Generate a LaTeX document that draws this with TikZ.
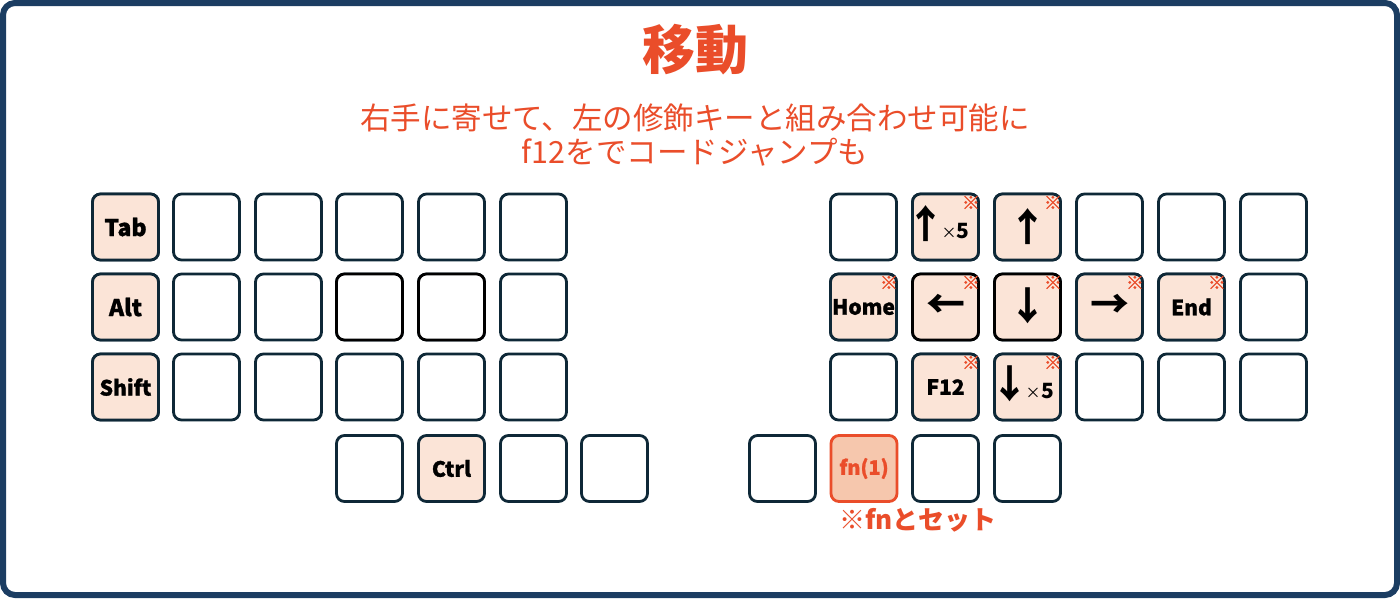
\documentclass[tikz,border=0pt]{standalone}
\usepackage{fontspec}
\setmainfont{Noto Sans CJK JP}
\newfontfamily\heavyfont{Noto Sans CJK JP}[FakeBold=1.2]
\definecolor{frame}{HTML}{1B3D62}
\definecolor{keyline}{HTML}{0E2837}
\definecolor{peach}{HTML}{FBE4D7}
\definecolor{fnfill}{HTML}{F6C7AD}
\definecolor{accent}{HTML}{EA4D2A}
\newcommand{\arrf}{\bfseries\fontsize{39}{39}\selectfont}
\newcommand{\timesf}{\mdseries\fontsize{15}{15}\selectfont}
\newcommand{\fivef}{\bfseries\fontsize{21}{21}\selectfont}
\tikzset{
  key/.style={draw=keyline, line width=2.8pt, rounded corners=8pt, minimum width=66pt, minimum height=66pt, fill=white, inner sep=0pt, font=\heavyfont\bfseries\fontsize{21}{24}\selectfont},
  hot/.style={fill=peach},
  dark/.style={draw=black},
  big/.style={font=\heavyfont\bfseries\fontsize{23}{24}\selectfont},
  fnkey/.style={fill=fnfill, draw=accent, text=accent, font=\heavyfont\bfseries\fontsize{20}{22}\selectfont},
  kome/.style={text=accent, font=\heavyfont\bfseries\fontsize{18}{18}\selectfont, inner sep=0pt},
  arr/.style={font=\arrf, inner sep=0pt},
  combo/.style={anchor=base, inner sep=0pt}
}
\newcommand{\zw}[1]{\makebox[0pt]{#1}}
\begin{document}
\begin{tikzpicture}[x=1pt,y=-1pt]
\useasboundingbox (0,0) rectangle (1400,598);
\draw[frame, line width=6pt, rounded corners=12pt, fill=white] (3,3) rectangle (1397,595);

\node[text=accent, font=\bfseries\fontsize{53}{53}\selectfont] (title) at (695,50) {移動};
\node[text=accent, font=\fontsize{30.5}{34}\selectfont, align=center] (sub) at (695,135) {右手に寄せて、左の修飾キーと組み合わせ可能に\\f12をでコードジャンプも};

% left half
\foreach \c/\x in {1/125.5,2/206.5,3/288.5,4/369.5,5/451.5,6/533.5}{
  \foreach \r/\y in {1/227,2/307,3/387}{
    \node[key] (L\r\c) at (\x,\y) {};
  }
}
\node[key,hot,big] (L11) at (125.5,227) {Tab};
\node[key,hot,big] (L21) at (125.5,307) {Alt};
\node[key,hot] (L31) at (125.5,387) {Shift};
\node[key,dark] (L24) at (369.5,307) {};
\node[key,dark] (L25) at (451.5,307) {};
\node[key] (LB1) at (369.5,468.5) {};
\node[key,hot] (LB2) at (451.5,468.5) {Ctrl};
\node[key] (LB3) at (533.5,468.5) {};
\node[key] (LB4) at (614.5,468.5) {};

% right half
\foreach \c/\x in {1/863.5,2/945.5,3/1027.5,4/1109.5,5/1191.5,6/1273.5}{
  \foreach \r/\y in {1/227,2/307,3/387}{
    \node[key] (R\r\c) at (\x,\y) {};
  }
}
\node[key,hot] (R12) at (945.5,227) {};
\node[key,hot] (R13) at (1027.5,227) {};
\node[key,hot] (R21) at (863.5,307) {Home};
\node[key,hot,dark] (R22) at (945.5,307) {};
\node[key,hot,dark] (R23) at (1027.5,307) {};
\node[key,hot] (R24) at (1109.5,307) {};
\node[key,hot] (R25) at (1191.5,307) {End};
\node[key,hot] (R32) at (945.5,387) {F12};
\node[key,hot] (R33) at (1027.5,387) {};
\node[key] (RB1) at (782.5,468.5) {};
\node[key,fnkey] (RB2) at (864,468.5) {fn(1)};
\node[key] (RB3) at (945.5,468.5) {};
\node[key] (RB4) at (1027.5,468.5) {};

% arrow glyphs
\node[combo] (a1) at (945.5,238) {\makebox[0pt][l]{\hspace{-20pt}\zw{\arrf↑}\hspace{23.5pt}\zw{\timesf×}\hspace{14pt}\zw{\fivef 5}}};
\node[arr] (a2) at (1027.5,227) {\zw{↑}};
\node[arr] (a3) at (946,306) {\zw{←}};
\node[arr] (a4) at (1027.5,306) {\zw{↓}};
\node[arr] (a5) at (1109.5,306) {\zw{→}};
\node[combo] (a6) at (1027.5,398) {\makebox[0pt][l]{\hspace{-17.5pt}\zw{\arrf↓}\hspace{23pt}\zw{\timesf×}\hspace{15pt}\zw{\fivef 5}}};

% kome marks
\foreach \n in {R12,R13,R21,R22,R23,R24,R25,R32,R33}{
  \node[kome] at ([xshift=-9pt,yshift=-10pt]\n.north east) {※};
}

\node[text=accent, font=\bfseries\fontsize{26}{26}\selectfont] (note) at (918,520) {※fnとセット};
\end{tikzpicture}
\end{document}
